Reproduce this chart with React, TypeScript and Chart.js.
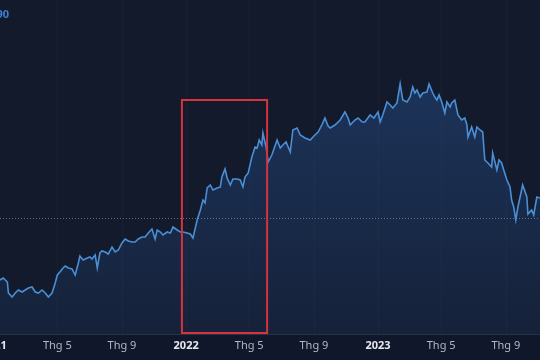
import React, { useEffect, useRef } from "react";
import { Chart, registerables } from "chart.js";

Chart.register(...registerables);

// Days since 2021-01-01 for each sampled point
const dayOffsets = [
  11, 17, 25, 27, 34, 40, 46, 53, 59, 65,
  72, 78, 84, 91, 97, 103, 110, 116, 120, 125,
  131, 135, 141, 148, 154, 160, 163, 169, 177, 182,
  186, 192, 196, 201, 205, 211, 217, 224, 230, 236,
  243, 249, 255, 262, 268, 274, 281, 287, 293, 300,
  306, 310, 316, 321, 329, 335, 340, 348, 354, 359,
  367, 373, 378, 386, 392, 397, 401, 405, 411, 416,
  424, 430, 433, 439, 443, 449, 454, 462, 468, 473,
  477, 483, 490, 496, 500, 504, 509, 511, 517, 521,
  528, 538, 544, 549, 555, 563, 568, 576, 582, 591,
  601, 608, 616, 623, 629, 635, 639, 648, 658, 667,
  673, 677, 686, 692, 700, 705, 715, 722, 730, 734,
  739, 747, 753, 758, 766, 772, 777, 785, 791, 796,
  800, 804, 810, 815, 823, 827, 834, 838, 842, 846,
  851, 857, 861, 867, 870, 876, 882, 889, 895, 899,
  901, 908, 914, 918, 924, 929, 933, 939, 946, 948,
  956, 960, 965, 969, 975, 981, 984, 988, 992, 996,
  1003, 1005, 1013, 1015, 1022, 1026, 1032, 1038,
];

// Index level for each point
const priceValues = [
  54, 56, 52, 41, 37, 41, 44, 42, 44, 46,
  47, 42, 41, 44, 41, 37, 41, 51, 59, 62,
  66, 68, 66, 65, 59, 71, 78, 74, 76, 77,
  75, 79, 66, 81, 83, 82, 80, 87, 82, 84,
  91, 95, 93, 92, 92, 95, 97, 97, 101, 105,
  95, 104, 102, 99, 102, 101, 107, 104, 102, 102,
  101, 100, 96, 114, 124, 134, 131, 146, 149, 144,
  146, 147, 157, 165, 156, 149, 155, 155, 154, 147,
  157, 161, 177, 187, 186, 194, 189, 201, 187, 172,
  179, 194, 186, 189, 192, 182, 204, 206, 199, 196,
  194, 198, 202, 209, 216, 208, 206, 209, 214, 222,
  216, 209, 214, 216, 212, 212, 219, 216, 222, 212,
  219, 232, 229, 226, 231, 250, 234, 232, 237, 247,
  241, 244, 237, 241, 242, 250, 241, 237, 234, 239,
  232, 221, 232, 227, 231, 234, 219, 214, 216, 209,
  197, 207, 197, 207, 204, 202, 174, 171, 167, 181,
  164, 174, 171, 164, 154, 147, 134, 127, 114, 127,
  144, 149, 137, 120, 124, 119, 137, 136,
];

// Time axis ticks (days since 2021-01-01)
const tickDays = [0, 120, 243, 365, 485, 608, 730, 850, 973];
const tickLabels = ["2021", "Thg 5", "Thg 9", "2022", "Thg 5", "Thg 9", "2023", "Thg 5", "Thg 9"];
const tickIsYear = [true, false, false, true, false, false, true, false, false];

// Visible window and annotations
const xMinDay = 11;
const xMaxDay = 1038;
const yMinValue = 0;
const yMaxValue = 334;
const referenceLevel = 116;
const highlightStartDay = 357;
const highlightEndDay = 519;
const highlightTopValue = 234;
const highlightBottomValue = 1;
const priceTagText = "90";

const BG = "#131a2b";

export default function App() {
  const canvasRef = useRef<HTMLCanvasElement | null>(null);

  useEffect(() => {
    document.body.style.margin = "0";
    const canvas = canvasRef.current;
    if (!canvas) return;

    const decorPlugin = {
      id: "decor",
      beforeDraw(chart: any) {
        const { ctx, width, height, chartArea } = chart;
        ctx.save();
        ctx.fillStyle = BG;
        ctx.fillRect(0, 0, width, height);
        ctx.fillStyle = "#11172a";
        ctx.fillRect(0, chartArea.bottom, width, height - chartArea.bottom);
        // faint vertical grid
        const xs = chart.scales.x;
        ctx.strokeStyle = "rgba(255,255,255,0.022)";
        ctx.lineWidth = 1;
        tickDays.forEach((d) => {
          const px = Math.round(xs.getPixelForValue(d)) + 0.5;
          ctx.beginPath();
          ctx.moveTo(px, chartArea.top);
          ctx.lineTo(px, chartArea.bottom);
          ctx.stroke();
        });
        ctx.restore();
      },
      afterDatasetsDraw(chart: any) {
        const { ctx, width, chartArea } = chart;
        const xs = chart.scales.x;
        const ys = chart.scales.y;
        ctx.save();
        // dotted reference line
        const ry = Math.round(ys.getPixelForValue(referenceLevel)) + 0.5;
        ctx.strokeStyle = "rgba(110,140,180,0.75)";
        ctx.setLineDash([1, 2]);
        ctx.lineWidth = 1;
        ctx.beginPath();
        ctx.moveTo(0, ry);
        ctx.lineTo(width, ry);
        ctx.stroke();
        ctx.setLineDash([]);

        // axis separator
        ctx.strokeStyle = "#2a3142";
        ctx.beginPath();
        ctx.moveTo(0, chartArea.bottom + 0.5);
        ctx.lineTo(width, chartArea.bottom + 0.5);
        ctx.stroke();

        // highlight box
        const bx1 = xs.getPixelForValue(highlightStartDay);
        const bx2 = xs.getPixelForValue(highlightEndDay);
        const by1 = ys.getPixelForValue(highlightTopValue);
        const by2 = ys.getPixelForValue(highlightBottomValue);
        ctx.strokeStyle = "#d8323c";
        ctx.lineWidth = 2;
        ctx.strokeRect(bx1, by1, bx2 - bx1, by2 - by1);

        // time axis labels
        ctx.textBaseline = "middle";
        ctx.textAlign = "center";
        const ly = chartArea.bottom + 12;
        tickDays.forEach((d, i) => {
          const px = xs.getPixelForValue(d);
          if (tickIsYear[i]) {
            ctx.font = "bold 11px 'Noto Sans', sans-serif";
            ctx.fillStyle = "#e6e8ee";
          } else {
            ctx.font = "11px 'Noto Sans', sans-serif";
            ctx.fillStyle = "#b4b8c2";
          }
          ctx.fillText(tickLabels[i], px, ly);
        });

        // price tag fragment
        ctx.font = "bold 11px 'Noto Sans', sans-serif";
        ctx.fillStyle = "#3d80d2";
        ctx.textAlign = "right";
        ctx.fillText(priceTagText, 9, 15);
        ctx.restore();
      },
    };

    const chart = new Chart(canvas, {
      type: "line",
      data: {
        datasets: [
          {
            data: dayOffsets.map((d, i) => ({ x: d, y: priceValues[i] })),
            borderColor: "#4a8fd6",
            borderWidth: 1.6,
            pointRadius: 0,
            tension: 0,
            fill: "start",
            backgroundColor: (c: any) => {
              const { chart: ch } = c;
              const area = ch.chartArea;
              if (!area) return "rgba(45,100,180,0.25)";
              const g = ch.ctx.createLinearGradient(0, area.top + 60, 0, area.bottom);
              g.addColorStop(0, "rgba(45,100,180,0.36)");
              g.addColorStop(1, "rgba(45,100,180,0.10)");
              return g;
            },
          },
        ],
      },
      options: {
        animation: false,
        responsive: false,
        maintainAspectRatio: false,
        layout: { padding: { left: 0, right: 0, top: 0, bottom: 26 } },
        plugins: { legend: { display: false }, tooltip: { enabled: false } },
        scales: {
          x: { type: "linear", min: xMinDay, max: xMaxDay, display: false },
          y: { type: "linear", min: yMinValue, max: yMaxValue, display: false },
        },
      },
      plugins: [decorPlugin],
    });

    return () => chart.destroy();
  }, []);

  return (
    <div style={{ position: "absolute", left: 0, top: 0, width: 540, height: 360 }}>
      <canvas ref={canvasRef} width={540} height={360} style={{ display: "block" }} />
    </div>
  );
}
